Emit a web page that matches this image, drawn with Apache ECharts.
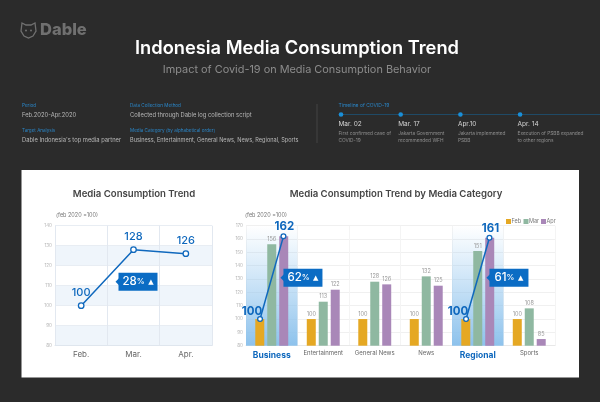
<!DOCTYPE html>
<html>
<head>
<meta charset="utf-8">
<style>
html, body { margin: 0; padding: 0; background: #2b2b2b; }
#chart { width: 600px; height: 402px; }
</style>
<script src="https://cdn.jsdelivr.net/npm/echarts@6/dist/echarts.min.js"></script>
</head>
<body>
<div id="chart"></div>
<script>
var FONT = 'Inter, "Open Sans", sans-serif';

// overall trend
var months = ['Feb.', 'Mar.', 'Apr.'];
var overall = [100, 128, 126];

// by media category
var categories = ['Business', 'Entertainment', 'General News', 'News', 'Regional', 'Sports'];
var febValues = [100, 100, 100, 100, 100, 100];
var marValues = [156, 113, 128, 132, 151, 108];
var aprValues = [162, 122, 126, 125, 161, 85];
var highlighted = ['Business', 'Regional'];
var legendNames = ['Feb', 'Mar', 'Apr'];

// callouts
var overallChange = ['28'];
var categoryChange = ['62', '61'];
var overallCalloutLevel = [112];
var categoryCalloutLevel = [131, 131];

// header text
var mainTitle = 'Indonesia Media Consumption Trend';
var subTitle = 'Impact of Covid-19 on Media Consumption Behavior';
var baseNote = '(feb 2020 =100)';
var leftTitle = 'Media Consumption Trend';
var rightTitle = 'Media Consumption Trend by Media Category';
var metaLabels = ['Period', 'Data Collection Method', 'Target Analysis', 'Media Category (by alphabetical order)'];
var metaValues = ['Feb.2020-Apr.2020', 'Collected through Dable log collection script',
    "Dable Indonesia's top media partner", 'Business, Entertainment, General News, News, Regional, Sports'];
var timelineTitle = 'Timeline of COVID-19';
var timelineDates = ['Mar. 02', 'Mar. 17', 'Apr.10', 'Apr. 14'];
var timelineNotes = [
    ['First confirmed case of', 'COVID-19'],
    ['Jakarta Government', 'recommended WFH'],
    ['Jakarta implemented', 'PSBB'],
    ['Execution of PSBB expanded', 'to other regions']
];

var BLUE = '#0f68bd';
var barWidth = 9;
var barStep = 11.7; // bar width + gap, distance between bars of one group

function txt(x, y, text, size, color, weight, align) {
    return {
        type: 'text', x: x, y: y, silent: true,
        style: {
            text: text, fontSize: size, fill: color, fontWeight: weight || 400,
            align: align || 'left', verticalAlign: 'middle', fontFamily: FONT
        }
    };
}

var graphics = [
    // white panel
    { type: 'rect', z: -10, shape: { x: 21.5, y: 170, width: 557.5, height: 207.5 }, style: { fill: '#fff' } },
    // logo
    { type: 'polygon', shape: { points: [[22, 23], [26, 25], [31, 25], [35, 23], [36, 31], [33, 36], [28.5, 38], [24, 36], [21, 31]] },
      style: { fill: 'none', stroke: '#707070', lineWidth: 1.3 } },
    { type: 'circle', shape: { cx: 26, cy: 30.5, r: 1 }, style: { fill: '#707070' } },
    { type: 'circle', shape: { cx: 31, cy: 30.5, r: 1 }, style: { fill: '#707070' } },
    txt(40, 30.5, 'Dable', 16.5, '#707070', 800),
    txt(297, 49, mainTitle, 18.3, '#fff', 600, 'center'),
    txt(297, 70, subTitle, 10.9, '#8c8c8c', 400, 'center'),
    txt(134, 194, leftTitle, 9.6, '#444', 600, 'center'),
    txt(396, 194, rightTitle, 9.6, '#444', 600, 'center'),
    txt(56, 215.5, baseNote, 5.5, '#777'),
    txt(245, 215.5, baseNote, 5.5, '#777'),
    // timeline
    { type: 'line', shape: { x1: 317, y1: 104, x2: 317, y2: 143 }, style: { stroke: '#444', lineWidth: 1 } },
    { type: 'line', shape: { x1: 341, y1: 114.5, x2: 600, y2: 114.5 }, style: { stroke: '#1f4a66', lineWidth: 1 } },
    txt(338.5, 105.5, timelineTitle, 5, '#2a86c8')
];

[22, 130].forEach(function (x, col) {
    [0, 1].forEach(function (row) {
        var i = row * 2 + col;
        graphics.push(txt(x, 106 + row * 25, metaLabels[i], 4.6, '#2a86c8'));
        graphics.push(txt(x, 115 + row * 25, metaValues[i], i === 3 ? 5.6 : 5.8, '#b8b8b8'));
    });
});

timelineDates.forEach(function (d, i) {
    var x = 338.5 + i * 59.7;
    graphics.push({ type: 'circle', shape: { cx: x + 2.5, cy: 114.5, r: 2.3 }, style: { fill: '#1a8fd8' } });
    graphics.push(txt(x, 124.5, d, 6.5, '#d5d5d5'));
    graphics.push(txt(x, 134, timelineNotes[i][0], 4.8, '#8f8f8f'));
    graphics.push(txt(x, 140.5, timelineNotes[i][1], 4.8, '#8f8f8f'));
});

function isHighlighted(name) {
    return highlighted.indexOf(name) >= 0;
}

function barData(values, labelled) {
    return values.map(function (v, i) {
        return {
            value: v,
            label: { show: !isHighlighted(categories[i]) || labelled }
        };
    });
}

function barSeries(name, values, color, labelled) {
    return {
        name: name, type: 'bar', xAxisIndex: 1, yAxisIndex: 1, z: 3,
        barWidth: barWidth, barGap: '33%',
        itemStyle: { color: color },
        label: { show: true, position: 'top', distance: 2, fontSize: 5.5, color: '#999', fontFamily: FONT },
        data: barData(values, labelled)
    };
}

var highlightIndex = highlighted.map(function (h) { return categories.indexOf(h); });

// blue glow behind the highlighted categories
function renderGlow(params, api) {
    var top = api.coord([api.value(0), 170]);
    var bottom = api.coord([api.value(0), 80]);
    var w = api.size([1, 0])[0];
    return {
        type: 'rect',
        shape: { x: top[0] - w / 2, y: top[1], width: w, height: bottom[1] - top[1] },
        style: {
            fill: new echarts.graphic.LinearGradient(0, 0, 0, 1, [
                { offset: 0, color: 'rgba(150,200,240,0)' },
                { offset: 1, color: '#8dc2ec' }
            ])
        }
    };
}

// line running from the Feb bar to the Apr bar
function renderRise(params, api) {
    var cat = api.value(0);
    var a = api.coord([cat, api.value(1)]);
    var b = api.coord([cat, api.value(2)]);
    a[0] -= barStep;
    b[0] += barStep;
    var textStyle = { fill: BLUE, fontSize: 11.5, fontWeight: 700, fontFamily: FONT, align: 'center', verticalAlign: 'middle' };
    return {
        type: 'group',
        children: [
            { type: 'line', shape: { x1: a[0], y1: a[1], x2: b[0], y2: b[1] }, style: { stroke: BLUE, lineWidth: 1.5 } },
            { type: 'circle', shape: { cx: a[0], cy: a[1], r: 2.4 }, style: { fill: '#fff', stroke: BLUE, lineWidth: 1.3 } },
            { type: 'circle', shape: { cx: b[0], cy: b[1], r: 2.4 }, style: { fill: '#fff', stroke: BLUE, lineWidth: 1.3 } },
            { type: 'text', x: a[0] - 8, y: a[1] - 7.5, style: Object.assign({ text: String(api.value(1)) }, textStyle) },
            { type: 'text', x: b[0] + 1, y: b[1] - 9.5, style: Object.assign({ text: String(api.value(2)) }, textStyle) }
        ]
    };
}

function callout(x, y, text) {
    var w = 39, h = 18;
    return {
        type: 'group',
        children: [
            { type: 'polygon', shape: { points: [[x + 1, y - 4], [x - 3, y], [x + 1, y + 4]] }, style: { fill: '#0b6cc4' } },
            { type: 'rect', shape: { x: x, y: y - h / 2, width: w, height: h }, style: { fill: '#0b6cc4' } },
            {
                type: 'text', x: x + w / 2, y: y,
                style: {
                    text: '{n|' + text + '}{p|%} {t|▲}',
                    align: 'center', verticalAlign: 'middle', fill: '#fff', fontFamily: FONT,
                    rich: {
                        n: { fontSize: 11.5, fontWeight: 500, fill: '#fff', fontFamily: FONT },
                        p: { fontSize: 8, fontWeight: 500, fill: '#fff', fontFamily: FONT },
                        t: { fontSize: 7, fill: '#fff', fontFamily: 'DejaVu Sans' }
                    }
                }
            }
        ]
    };
}

function axisCommon(gridIndex) {
    return {
        gridIndex: gridIndex,
        type: 'value',
        min: 80,
        interval: 10,
        axisLine: { show: false },
        axisTick: { show: false },
        axisLabel: { fontSize: 4.6, color: '#b5b5b5', margin: 3, fontFamily: FONT }
    };
}

var option = {
    backgroundColor: '#2b2b2b',
    animation: false,
    textStyle: { fontFamily: FONT },
    graphic: { elements: graphics },
    // one legend per name, the built-in item spacing is too wide for this size
    legend: legendNames.map(function (name, i) {
        return {
            data: [name],
            left: 506 + i * 17.5, top: 218.5, padding: 0,
            icon: 'rect', itemWidth: 5, itemHeight: 5,
            textStyle: { fontSize: 5.5, color: '#777', padding: [0, 0, 0, -4.5] }
        };
    }),
    grid: [
        { left: 55, top: 225.7, width: 157, height: 120 },
        { left: 246, top: 225.7, width: 309, height: 120 }
    ],
    xAxis: [
        {
            gridIndex: 0, type: 'category', data: months,
            axisLine: { lineStyle: { color: '#dfe6ee' } },
            axisTick: { show: false },
            axisLabel: { fontSize: 8, color: '#666', margin: 5 },
            splitLine: { show: true, lineStyle: { color: '#e2e8f0' } }
        },
        {
            gridIndex: 1, type: 'category', data: categories,
            axisLine: { lineStyle: { color: '#e8e8e8' } },
            axisTick: { show: false },
            axisLabel: {
                margin: 5, interval: 0, fontSize: 6, color: '#666',
                formatter: function (v) { return isHighlighted(v) ? '{hi|' + v + '}' : v; },
                rich: { hi: { fontSize: 8.5, fontWeight: 700, color: BLUE, fontFamily: FONT } }
            },
            splitLine: { show: true, lineStyle: { color: '#f4f4f4' } }
        }
    ],
    yAxis: [
        Object.assign(axisCommon(0), {
            max: 140,
            splitLine: { lineStyle: { color: '#e8edf3' } },
            splitArea: { show: true, areaStyle: { color: ['#eff5fb', '#fff'] } }
        }),
        Object.assign(axisCommon(1), {
            max: 170,
            splitLine: { lineStyle: { color: '#f0f0f0' } }
        })
    ],
    series: [
        {
            type: 'line', xAxisIndex: 0, yAxisIndex: 0, z: 4,
            data: overall,
            lineStyle: { color: BLUE, width: 1.5 },
            symbol: 'circle', symbolSize: 5.5,
            itemStyle: { color: '#fff', borderColor: BLUE, borderWidth: 1.3 },
            label: { show: true, position: 'top', distance: 4, fontSize: 11, fontWeight: 500, color: BLUE, fontFamily: FONT }
        },
        {
            type: 'custom', xAxisIndex: 0, yAxisIndex: 0, z: 6, clip: false,
            data: overallChange.map(function (c, i) { return [1, overallCalloutLevel[i]]; }),
            renderItem: function (params, api) {
                var p = api.coord([api.value(0), api.value(1)]);
                return callout(p[0] - 15, p[1], overallChange[params.dataIndex]);
            }
        },
        {
            type: 'custom', xAxisIndex: 1, yAxisIndex: 1, z: 1,
            data: highlightIndex.map(function (c) { return [c]; }),
            renderItem: renderGlow
        },
        barSeries('Feb', febValues, '#e5a823', false),
        barSeries('Mar', marValues, '#8fb8a1', true),
        barSeries('Apr', aprValues, '#a987b8', false),
        {
            type: 'custom', xAxisIndex: 1, yAxisIndex: 1, z: 5, clip: false,
            data: highlightIndex.map(function (c) { return [c, febValues[c], aprValues[c]]; }),
            renderItem: renderRise
        },
        {
            type: 'custom', xAxisIndex: 1, yAxisIndex: 1, z: 6, clip: false,
            data: highlightIndex.map(function (c, i) { return [c, categoryCalloutLevel[i]]; }),
            renderItem: function (params, api) {
                var p = api.coord([api.value(0), api.value(1)]);
                return callout(p[0] + barStep, p[1], categoryChange[params.dataIndex]);
            }
        }
    ]
};

var chart = echarts.init(document.getElementById('chart'));
chart.setOption(option);
</script>
</body>
</html>
